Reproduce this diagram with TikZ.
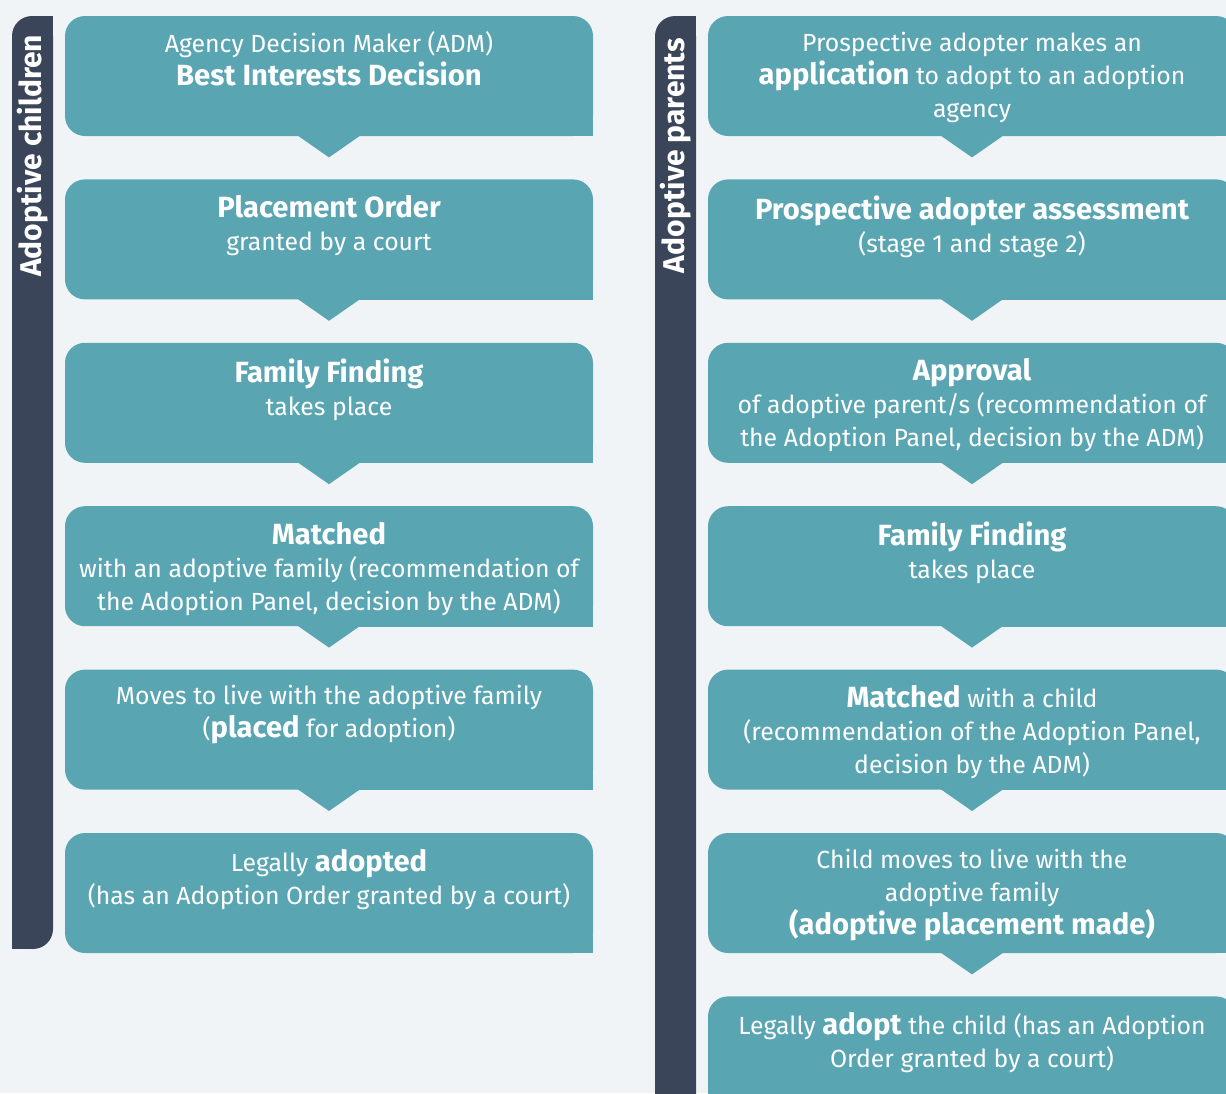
\documentclass[tikz,border=0pt]{standalone}
\usepackage{fontspec}
\setmainfont{Fira Sans}
\definecolor{pagebg}{HTML}{F0F4F7}
\definecolor{stepteal}{HTML}{5AA5B2}
\definecolor{bardark}{HTML}{3B4559}
\newcommand{\keyword}[1]{{\fontsize{14.6}{16.5}\selectfont\bfseries #1}}
\tikzset{
  stepbox/.style={fill=stepteal, rounded corners=10pt, minimum width=264pt,
    minimum height=60pt, inner sep=0pt},
  steptext/.style={text=white, align=center, anchor=north, inner sep=0pt,
    font=\fontsize{12.4}{16.5}\selectfont},
  sidebar/.style={fill=bardark, rounded corners=10pt, minimum width=20.5pt, inner sep=0pt},
  sidelabel/.style={text=white, rotate=90, anchor=east, inner sep=0pt,
    font=\fontsize{15}{16}\selectfont\bfseries},
}
\begin{document}
\begin{tikzpicture}[x=0.5pt, y=-0.5pt]
  \useasboundingbox (0,0) rectangle (1226,1093);
  \clip (0,0) rectangle (1226,1093);
  \fill[pagebg] (0,0) rectangle (1226,1093);

  % side bars
  \node[sidebar, minimum height=466.5pt] (kidbar) at (32.5,482.5) {};
  \node[sidebar, minimum height=552pt] (parbar) at (675.5,568) {};
  \foreach \b in {kidbar,parbar} {
    \fill[bardark] (\b.center) rectangle (\b.north east);
    \fill[bardark] (\b.center) rectangle (\b.south west);
  }
  \node[sidelabel] (kidlabel) at ([yshift=-9.5pt]kidbar.north) {Adoptive children};
  \node[sidelabel] (parlabel) at ([yshift=-11pt]parbar.north) {Adoptive parents};

  % children steps
  \node[stepbox] (kid1) at (329,76) {};
  \node[stepbox] (kid2) at (329,239.4) {};
  \node[stepbox] (kid3) at (329,402.8) {};
  \node[stepbox] (kid4) at (329,566.2) {};
  \node[stepbox] (kid5) at (329,729.6) {};
  \node[stepbox] (kid6) at (329,893) {};

  % parents steps
  \node[stepbox] (par1) at (972,76) {};
  \node[stepbox] (par2) at (972,239.4) {};
  \node[stepbox] (par3) at (972,402.8) {};
  \node[stepbox] (par4) at (972,566.2) {};
  \node[stepbox] (par5) at (972,729.6) {};
  \node[stepbox] (par6) at (972,893) {};
  \node[stepbox] (par7) at (972,1056.4) {};

  % square corner bottom right, pointer to next step
  \foreach \n in {kid1,kid2,kid3,kid4,kid5,kid6,par1,par2,par3,par4,par5,par6,par7}
    \fill[stepteal] (\n.center) rectangle (\n.south east);
  \foreach \n in {kid1,kid2,kid3,kid4,kid5,par1,par2,par3,par4,par5,par6}
    \fill[stepteal] ([xshift=-16.5pt,yshift=1pt]\n.south) -- ([yshift=-10.5pt]\n.south)
      -- ([xshift=16.5pt,yshift=1pt]\n.south) -- cycle;

  % texts
  \node[steptext] (kid1t) at ([yshift=-8pt]kid1.north)
    {Agency Decision Maker (ADM)\\ \keyword{Best Interests Decision}};
  \node[steptext] (kid2t) at ([yshift=-8pt]kid2.north)
    {\keyword{Placement Order}\\ granted by a court};
  \node[steptext] (kid3t) at ([yshift=-8pt]kid3.north)
    {\keyword{Family Finding}\\ takes place};
  \node[steptext] (kid4t) at ([yshift=-8pt]kid4.north)
    {\keyword{Matched}\\ with an adoptive family (recommendation of\\ the Adoption Panel, decision by the ADM)};
  \node[steptext] (kid5t) at ([yshift=-8pt]kid5.north)
    {Moves to live with the adoptive family\\ (\keyword{placed} for adoption)};
  \node[steptext] (kid6t) at ([yshift=-8pt]kid6.north)
    {Legally \keyword{adopted}\\ (has an Adoption Order granted by a court)};

  \node[steptext] (par1t) at ([yshift=-8pt]par1.north)
    {Prospective adopter makes an\\ \keyword{application} to adopt to an adoption\\ agency};
  \node[steptext] (par2t) at ([yshift=-8pt]par2.north)
    {\keyword{Prospective adopter assessment}\\ (stage 1 and stage 2)};
  \node[steptext] (par3t) at ([yshift=-8pt]par3.north)
    {\keyword{Approval}\\ of adoptive parent/s (recommendation of\\ the Adoption Panel, decision by the ADM)};
  \node[steptext] (par4t) at ([yshift=-8pt]par4.north)
    {\keyword{Family Finding}\\ takes place};
  \node[steptext] (par5t) at ([yshift=-8pt]par5.north)
    {\keyword{Matched} with a child\\ (recommendation of the Adoption Panel,\\ decision by the ADM)};
  \node[steptext] (par6t) at ([yshift=-8pt]par6.north)
    {Child moves to live with the\\ adoptive family\\ \keyword{(adoptive placement made)}};
  \node[steptext] (par7t) at ([yshift=-8pt]par7.north)
    {Legally \keyword{adopt} the child (has an Adoption\\ Order granted by a court)};
\end{tikzpicture}
\end{document}
